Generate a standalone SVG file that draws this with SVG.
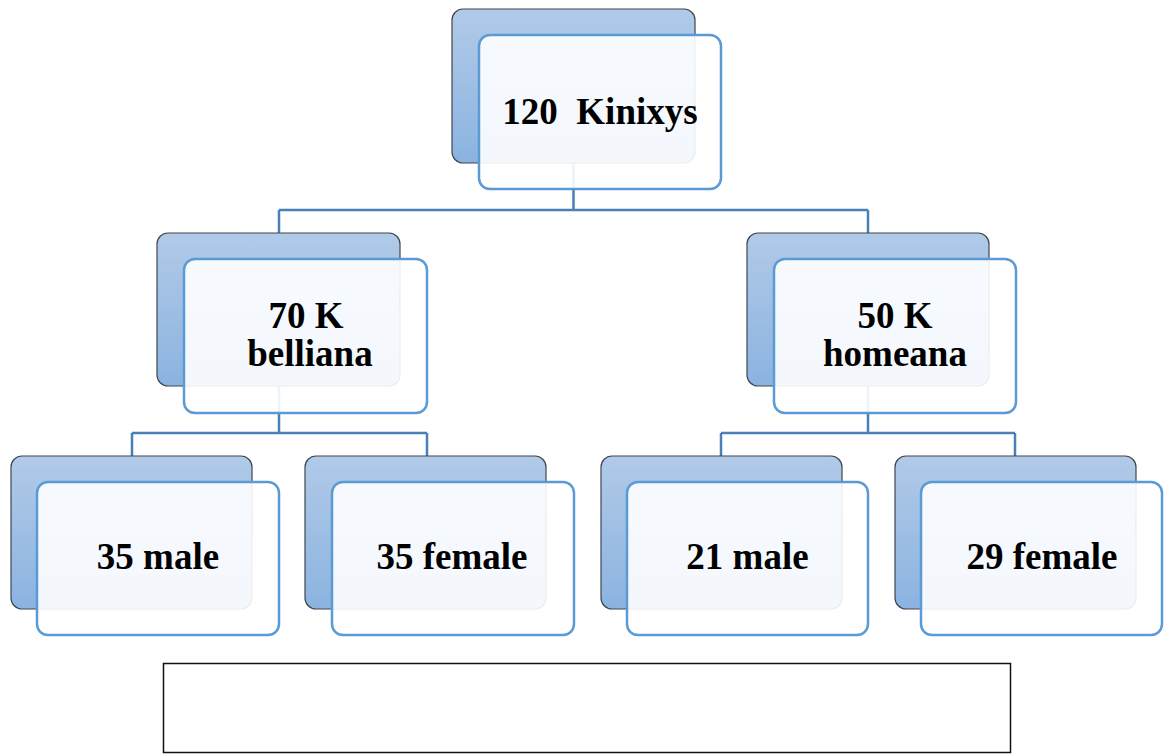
<svg xmlns="http://www.w3.org/2000/svg" width="1165" height="755" viewBox="0 0 1165 755">
<defs>
<linearGradient id="gBack" x1="0" y1="0" x2="0" y2="1">
<stop offset="0" stop-color="#b1cae8"/>
<stop offset="1" stop-color="#8bb3e0"/>
</linearGradient>
<style>
.back{fill:url(#gBack);stroke:#3f4650;stroke-width:1.2}
.front{fill:#ffffff;fill-opacity:0.9;stroke:#5b9bd5;stroke-width:2.5}
.lbl{font-family:"Liberation Serif","Times New Roman",serif;font-weight:bold;font-size:37px;fill:#000;text-anchor:middle}
.conn{fill:none;stroke:#4a80b8;stroke-width:2.5}
</style>
</defs>
<rect width="1165" height="755" fill="#fff"/>
<g id="connectors">
<path class="conn" d="M573.5,163 V210 M279,210 H868 M279,210 V233 M868,210 V233"/>
<path class="conn" d="M279,386 V433 M132,433 H427 M132,433 V456 M427,433 V456"/>
<path class="conn" d="M868,386 V433 M721,433 H1015 M721,433 V456 M1015,433 V456"/>
</g>
<g id="n-root">
<rect class="back" x="452" y="9" width="243" height="154" rx="11"/>
<rect class="front" x="479" y="35" width="242" height="154" rx="11"/>
<text class="lbl" x="600" y="124" xml:space="preserve">120  Kinixys</text>
</g>
<g id="n-belliana">
<rect class="back" x="157" y="233" width="243" height="153" rx="11"/>
<rect class="front" x="184" y="259" width="243" height="154" rx="11"/>
<text class="lbl" x="306" y="328">70 K</text>
<text class="lbl" x="310" y="366">belliana</text>
</g>
<g id="n-homeana">
<rect class="back" x="747" y="233" width="242" height="153" rx="11"/>
<rect class="front" x="774" y="259" width="242" height="154" rx="11"/>
<text class="lbl" x="895" y="328">50 K</text>
<text class="lbl" x="895" y="366">homeana</text>
</g>
<g id="n-bmale">
<rect class="back" x="11" y="456" width="241" height="153" rx="11"/>
<rect class="front" x="37" y="482" width="242" height="153" rx="11"/>
<text class="lbl" x="158" y="569">35 male</text>
</g>
<g id="n-bfemale">
<rect class="back" x="305" y="456" width="241" height="153" rx="11"/>
<rect class="front" x="332" y="482" width="242" height="153" rx="11"/>
<text class="lbl" x="452" y="569">35 female</text>
</g>
<g id="n-hmale">
<rect class="back" x="601" y="456" width="241" height="153" rx="11"/>
<rect class="front" x="627" y="482" width="241" height="153" rx="11"/>
<text class="lbl" x="747.5" y="569">21 male</text>
</g>
<g id="n-hfemale">
<rect class="back" x="895" y="456" width="241" height="153" rx="11"/>
<rect class="front" x="921" y="482" width="241" height="153" rx="11"/>
<text class="lbl" x="1042" y="569">29 female</text>
</g>
<g id="caption-box">
<rect x="163.5" y="663.5" width="847" height="89" fill="#fff" stroke="#111" stroke-width="1.5"/>
</g>
</svg>
